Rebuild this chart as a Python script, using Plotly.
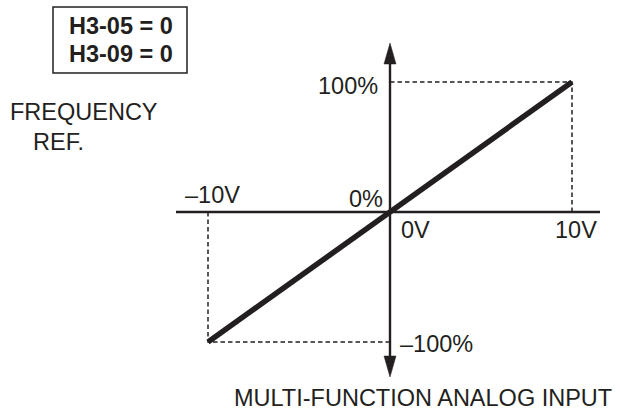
import plotly.graph_objects as go

# Analog input characteristic: frequency reference vs. input voltage
input_volts = [-10, 0, 10]
freq_ref_pct = [-100, 0, 100]

# Dashed guide lines to the end points of the characteristic
guide_pos_x = [10, 10, 0]
guide_pos_y = [0, 100, 100]
guide_neg_x = [-10, -10, 0]
guide_neg_y = [0, -100, -100]

# Drawing scale (pixels per unit) and origin location on the canvas
W, H = 621, 411
ORIGIN_X, ORIGIN_Y = 390, 212
PX_PER_V = 18.2
PX_PER_PCT = 1.3

INK = "#231f20"
FONT = "Liberation Sans, Arial, Helvetica, sans-serif"
FS = 23.5

x_range = [-ORIGIN_X / PX_PER_V, (W - ORIGIN_X) / PX_PER_V]
y_range = [-(H - ORIGIN_Y) / PX_PER_PCT, ORIGIN_Y / PX_PER_PCT]

fig = go.Figure()

for gx, gy in ((guide_pos_x, guide_pos_y), (guide_neg_x, guide_neg_y)):
    fig.add_trace(go.Scatter(
        x=gx, y=gy, mode="lines",
        line=dict(color=INK, width=1.5, dash="4.5px,3px"),
        hoverinfo="skip", showlegend=False,
    ))

fig.add_trace(go.Scatter(
    x=input_volts, y=freq_ref_pct, mode="lines",
    line=dict(color=INK, width=5.5),
    hoverinfo="skip", showlegend=False,
))

# Axes with arrow heads on the vertical axis
x_axis_lo, x_axis_hi = (176 - ORIGIN_X) / PX_PER_V, (600 - ORIGIN_X) / PX_PER_V
y_tip_hi, y_tip_lo = (ORIGIN_Y - 43) / PX_PER_PCT, (ORIGIN_Y - 377) / PX_PER_PCT
head_len = 21 / PX_PER_PCT
head_half = 6 / PX_PER_V

shapes = [
    dict(type="line", xref="x", yref="y", x0=x_axis_lo, x1=x_axis_hi, y0=0, y1=0,
         line=dict(color=INK, width=2.4)),
    dict(type="line", xref="x", yref="y", x0=0, x1=0,
         y0=y_tip_lo + head_len * 0.9, y1=y_tip_hi - head_len * 0.9,
         line=dict(color=INK, width=2.4)),
    dict(type="path", xref="x", yref="y",
         path=f"M {-head_half} {y_tip_hi - head_len} L 0 {y_tip_hi} L {head_half} {y_tip_hi - head_len} Z",
         fillcolor=INK, line=dict(color=INK, width=0.5)),
    dict(type="path", xref="x", yref="y",
         path=f"M {-head_half} {y_tip_lo + head_len} L 0 {y_tip_lo} L {head_half} {y_tip_lo + head_len} Z",
         fillcolor=INK, line=dict(color=INK, width=0.5)),
    # parameter box
    dict(type="rect", xref="paper", yref="paper",
         x0=53 / W, x1=187 / W, y0=1 - 73 / H, y1=1 - 7 / H,
         line=dict(color=INK, width=1.5), fillcolor="rgba(0,0,0,0)"),
]

def tick_label(text, x, y, dx, dy):
    return dict(text=text, x=x, y=y, xref="x", yref="y", showarrow=False,
                xanchor="center", yanchor="middle", xshift=dx, yshift=dy,
                font=dict(family=FONT, size=FS, color=INK))

def page_text(text, cx, cy, bold=False):
    return dict(text=f"<b>{text}</b>" if bold else text,
                x=cx / W, y=1 - cy / H, xref="paper", yref="paper",
                showarrow=False, xanchor="center", yanchor="middle", borderpad=0,
                font=dict(family=FONT, size=FS, color=INK))

annotations = [
    tick_label("–10V", -10, 0, 4.5, 17),
    tick_label("0%", 0, 0, -24, 13.5),
    tick_label("100%", 0, 100, -42, -3.5),
    tick_label("0V", 0, 0, 25, -17.5),
    tick_label("10V", 10, 0, 4, -17.5),
    tick_label("–100%", 0, -100, 46.5, -1.5),
    page_text("H3-05 = 0", 121, 26.5, bold=True),
    page_text("H3-09 = 0", 121, 54, bold=True),
    page_text("FREQUENCY", 84, 112.5),
    page_text("REF.", 58.5, 142),
    page_text("MULTI-FUNCTION ANALOG INPUT", 422.5, 397.5),
]

fig.update_layout(
    width=W, height=H,
    margin=dict(l=0, r=0, t=0, b=0),
    paper_bgcolor="white", plot_bgcolor="white",
    xaxis=dict(range=x_range, visible=False, fixedrange=True),
    yaxis=dict(range=y_range, visible=False, fixedrange=True),
    shapes=shapes, annotations=annotations,
    showlegend=False,
)

fig.write_html("out.html", config={"displayModeBar": False})
